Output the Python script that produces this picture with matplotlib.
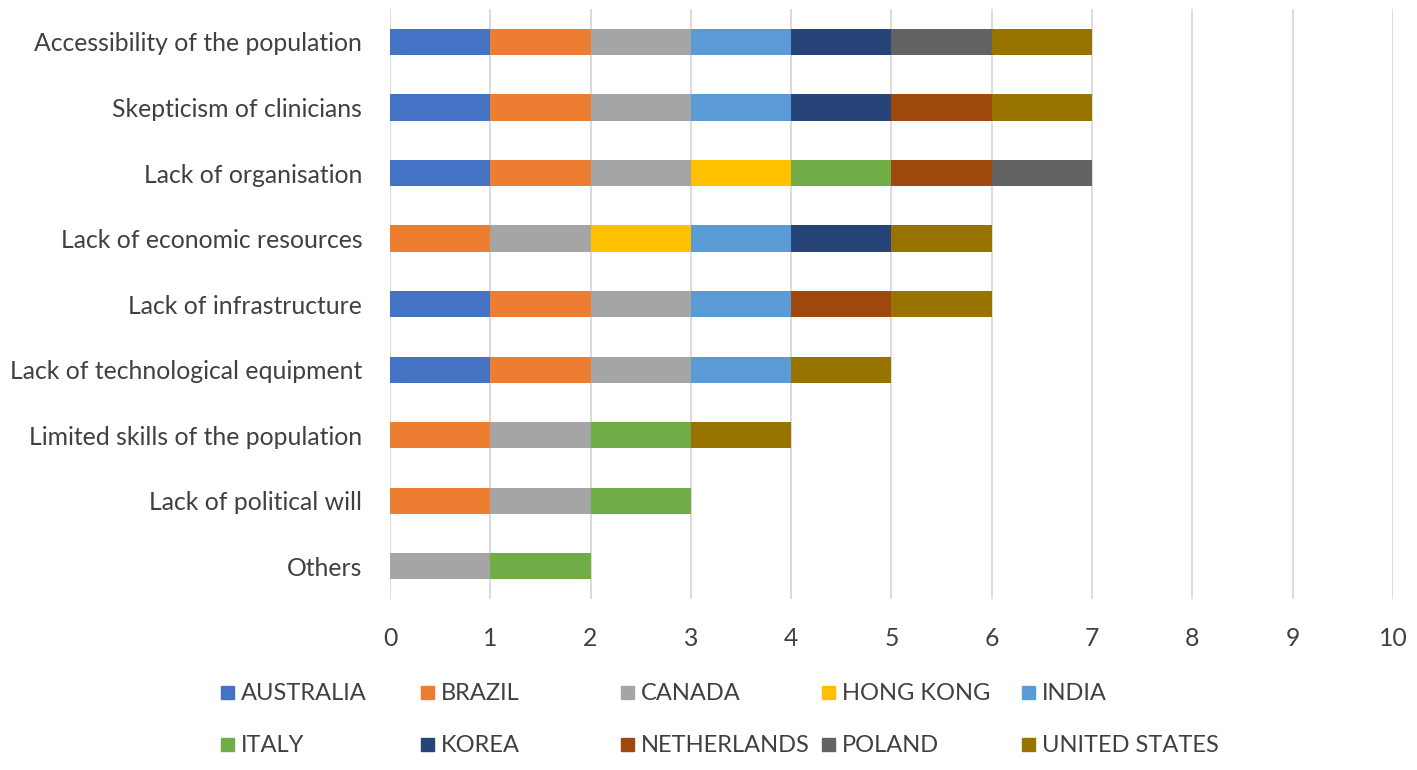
import matplotlib
matplotlib.use("Agg")
import matplotlib.pyplot as plt
from matplotlib.patches import Rectangle
import numpy as np

# ── Datos ────────────────────────────────────────────────────────────
categorias = [
    "Accessibility of the population",
    "Skepticism of clinicians",
    "Lack of organisation",
    "Lack of economic resources",
    "Lack of infrastructure",
    "Lack of technological equipment",
    "Limited skills of the population",
    "Lack of political will",
    "Others",
]
paises = ["AUSTRALIA", "BRAZIL", "CANADA", "HONG KONG", "INDIA",
          "ITALY", "KOREA", "NETHERLANDS", "POLAND", "UNITED STATES"]

# 1 = el país mencionó la barrera (orden de categorías de arriba abajo)
australia = [1, 1, 1, 0, 1, 1, 0, 0, 0]
brazil = [1, 1, 1, 1, 1, 1, 1, 1, 0]
canada = [1, 1, 1, 1, 1, 1, 1, 1, 1]
hong_kong = [0, 0, 1, 1, 0, 0, 0, 0, 0]
india = [1, 1, 0, 1, 1, 1, 0, 0, 0]
italy = [0, 0, 1, 0, 0, 0, 1, 1, 1]
korea = [1, 1, 0, 1, 0, 0, 0, 0, 0]
netherlands = [0, 1, 1, 0, 1, 0, 0, 0, 0]
poland = [1, 0, 1, 0, 0, 0, 0, 0, 0]
united_states = [1, 1, 0, 1, 1, 1, 1, 0, 0]

series = [australia, brazil, canada, hong_kong, india,
          italy, korea, netherlands, poland, united_states]
colores = ["#4472C4", "#ED7D31", "#A5A5A5", "#FFC000", "#5B9BD5",
           "#70AD47", "#264478", "#9E480E", "#636363", "#997300"]

plt.rcParams["font.family"] = ["Lato", "DejaVu Sans"]
TXT = "#404040"

fig = plt.figure(figsize=(14.17, 7.7), dpi=100)
ax = fig.add_axes([0.2752, 0.2221, 0.7078, 0.766])

y = np.arange(len(categorias))
izq = np.zeros(len(categorias))
for vals, col, nombre in zip(series, colores, paises):
    vals = np.array(vals, dtype=float)
    ax.barh(y, vals, left=izq, height=0.4, color=col, label=nombre, zorder=3)
    izq += vals

ax.set_xlim(0, 10)
ax.set_ylim(len(categorias) - 0.5, -0.5)
ax.set_xticks(range(0, 11))
ax.set_yticks(y)
ax.set_yticklabels(categorias)
ax.grid(axis="x", color="#D9D9D9", linewidth=1.3, zorder=0)
for s in ax.spines.values():
    s.set_visible(False)
ax.tick_params(axis="both", length=0, labelsize=17.8, colors=TXT)
ax.tick_params(axis="x", pad=20)
ax.tick_params(axis="y", pad=20)

# ── Leyenda manual (columnas de ancho fijo, como Excel) ─────────────
W, H = 1417, 770
col_x = [221, 421, 621, 822, 1022]
fila_y = [693, 745]
for i, (nombre, col) in enumerate(zip(paises, colores)):
    cx = col_x[i % 5]
    cy = fila_y[i // 5]
    fig.add_artist(Rectangle((cx / W, 1 - (cy + 6) / H), 13 / W, 13 / H,
                             transform=fig.transFigure, color=col))
    fig.text((cx + 20) / W, 1 - cy / H, nombre, fontsize=17, color=TXT,
             va="center", ha="left")

fig.savefig("out.png", dpi=100)
